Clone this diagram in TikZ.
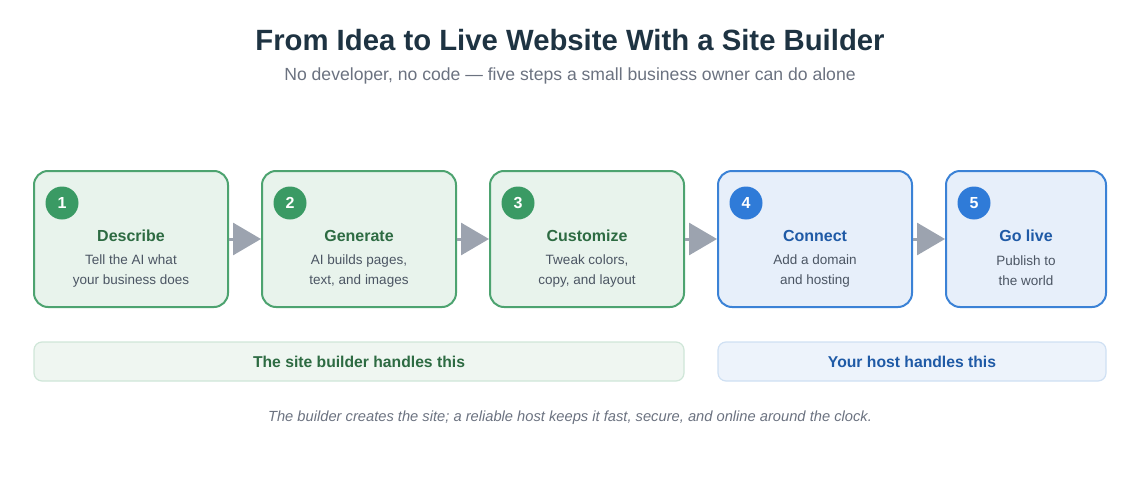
\documentclass[tikz,border=0pt]{standalone}
\usepackage{fontspec}
\setmainfont{Liberation Sans}
\usetikzlibrary{arrows.meta}
\definecolor{titlec}{HTML}{1E3342}
\definecolor{subc}{HTML}{6B7280}
\definecolor{descc}{HTML}{4B5563}
\definecolor{gborder}{HTML}{4DA370}
\definecolor{gfill}{HTML}{E8F3EC}
\definecolor{gcircle}{HTML}{3A9A64}
\definecolor{gtext}{HTML}{2D6B42}
\definecolor{bborder}{HTML}{3B82D6}
\definecolor{bfill}{HTML}{E7EFFA}
\definecolor{bcircle}{HTML}{2F7BD8}
\definecolor{btext}{HTML}{1F5AA6}
\definecolor{arrowc}{HTML}{9CA3AF}
\definecolor{gband}{HTML}{EFF6F1}
\definecolor{gbandb}{HTML}{CFE6D8}
\definecolor{bband}{HTML}{EDF3FB}
\definecolor{bbandb}{HTML}{CFE0F3}
\tikzset{
  stepbox/.style={rounded corners=14pt, line width=2pt, minimum height=136pt, inner sep=0pt},
  gbox/.style={stepbox, draw=gborder, fill=gfill, minimum width=194pt},
  bbox/.style={stepbox, draw=bborder, fill=bfill},
  numc/.style={circle, minimum size=33pt, inner sep=0pt, text=white, font=\fontsize{16}{16}\selectfont\bfseries},
  stitle/.style={font=\fontsize{16}{16}\selectfont\bfseries},
  sdesc/.style={text=descc, font=\fontsize{13.5}{20}\selectfont, align=center},
  flow/.style={draw=arrowc, line width=3pt, -{Triangle[length=28pt,width=32pt]}, shorten >=0pt},
  band/.style={rounded corners=8pt, line width=1.2pt, minimum height=39pt, inner sep=0pt, font=\fontsize{15.7}{16}\selectfont\bfseries},
}
\begin{document}
\begin{tikzpicture}[x=1pt,y=-1pt]
\useasboundingbox (0,0) rectangle (1140,479);
\node (title) at (570,40) [text=titlec, font=\fontsize{29.3}{31}\selectfont\bfseries] {From Idea to Live Website With a Site Builder};
\node (sub) at (570,76) [text=subc, font=\fontsize{17.6}{19}\selectfont] {No developer, no code — five steps a small business owner can do alone};

\node[gbox] (b1) at (131,239) {};
\node[gbox] (b2) at (359,239) {};
\node[gbox] (b3) at (587,239) {};
\node[bbox, minimum width=194pt] (b4) at (815,239) {};
\node[bbox, minimum width=160pt] (b5) at (1026,239) {};

\node[numc, fill=gcircle] (n1) at (62,203) {1};
\node[numc, fill=gcircle] (n2) at (290,203) {2};
\node[numc, fill=gcircle] (n3) at (518,203) {3};
\node[numc, fill=bcircle] (n4) at (746,203) {4};
\node[numc, fill=bcircle] (n5) at (974,203) {5};

\node[stitle, text=gtext] (t1) at (131,236) {Describe};
\node[stitle, text=gtext] (t2) at (359,236) {Generate};
\node[stitle, text=gtext] (t3) at (587,236) {Customize};
\node[stitle, text=btext] (t4) at (815,236) {Connect};
\node[stitle, text=btext] (t5) at (1026,236) {Go live};

\node[sdesc] (d1) at (131,271) {Tell the AI what\\your business does};
\node[sdesc] (d2) at (359,271) {AI builds pages,\\text, and images};
\node[sdesc] (d3) at (587,271) {Tweak colors,\\copy, and layout};
\node[sdesc] (d4) at (815,271) {Add a domain\\and hosting};
\node[sdesc] (d5) at (1026,271) {Publish to\\the world};

\draw[flow] (b1.east) -- (b2.west);
\draw[flow] (b2.east) -- (b3.west);
\draw[flow] (b3.east) -- (b4.west);
\draw[flow] (b4.east) -- (b5.west);

\node[band, draw=gbandb, fill=gband, text=gtext, minimum width=650pt] (g1) at (359,361.5) {The site builder handles this};
\node[band, draw=bbandb, fill=bband, text=btext, minimum width=388pt] (g2) at (912,361.5) {Your host handles this};

\node (foot) at (570,418) [text=subc, font=\fontsize{14.7}{16}\selectfont\itshape] {The builder creates the site; a reliable host keeps it fast, secure, and online around the clock.};
\end{tikzpicture}
\end{document}
